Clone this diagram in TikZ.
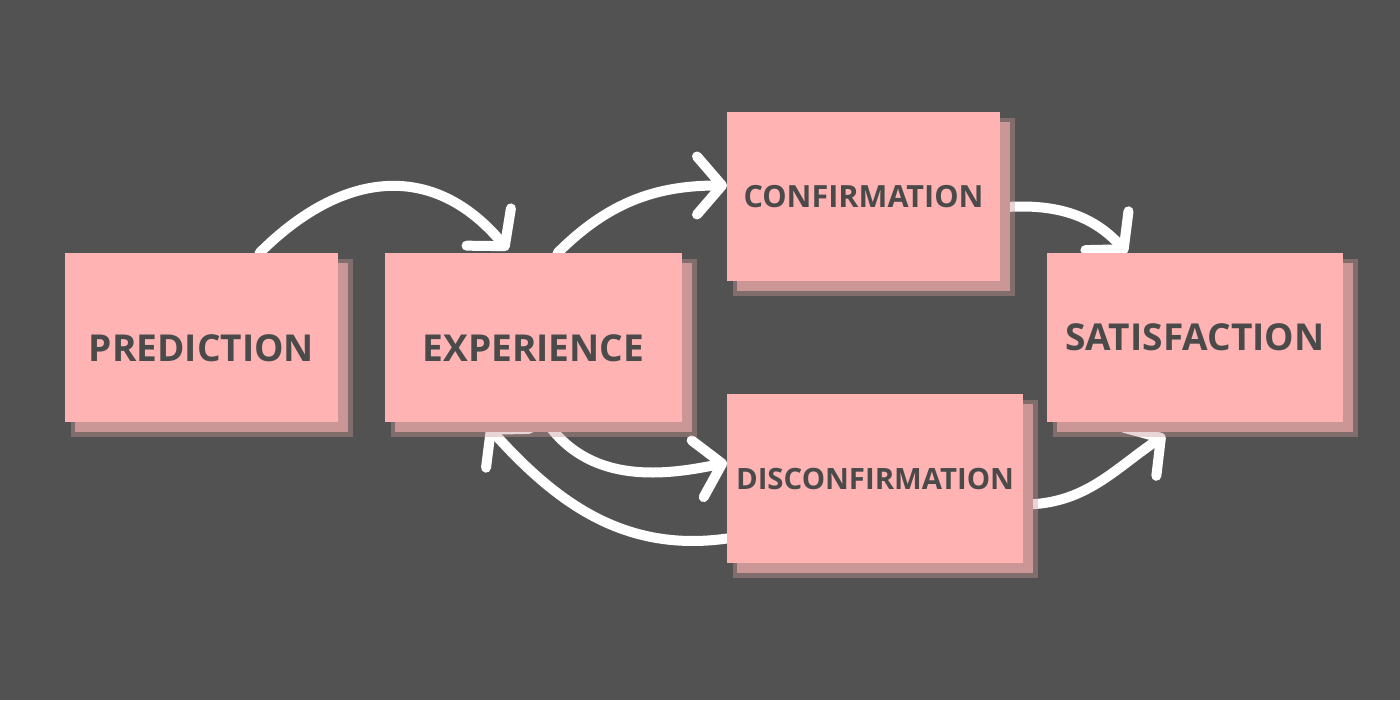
\documentclass[tikz,border=0pt]{standalone}
\usepackage{fontspec}
\setmainfont{Open Sans}
\usetikzlibrary{arrows.meta,calc,positioning,shadows}
\definecolor{ModelBackground}{HTML}{525252}
\definecolor{ModelPink}{HTML}{FFB3B3}
\definecolor{ModelShadow}{HTML}{CA9696}
\definecolor{ModelText}{HTML}{4A4A4A}
\pgfdeclarelayer{back}
\pgfdeclarelayer{links}
\pgfsetlayers{back,links,main}
% push a label a little below the middle of its box
\newcommand{\lowered}[1]{\raisebox{0pt}[\dimexpr\height+2.2mm\relax][0pt]{#1}}

\begin{document}
\begin{tikzpicture}[
  stagebox/.style={fill=ModelPink, text=ModelText, inner sep=0pt, outer sep=0pt, minimum height=1.69cm,
    drop shadow={shadow xshift=1mm, shadow yshift=-1mm, fill=ModelShadow, draw=ModelShadow,
      line width=0.9mm, fill opacity=1, draw opacity=0.4}},
  bigtext/.style={font=\fontsize{10.55}{13}\selectfont\bfseries},
  conftext/.style={font=\fontsize{8.7}{10}\selectfont\bfseries},
  disctext/.style={font=\fontsize{8.35}{10}\selectfont\bfseries},
  arr/.style={-{Straight Barb[length=2.5mm, width=5.8mm, round]}, line width=1mm,
    draw=white, line cap=round}
]
\begin{pgfonlayer}{back}
  \fill[ModelBackground] (0,0) rectangle (14,7);
\end{pgfonlayer}
\useasboundingbox (0,0) rectangle (14,7);

\node[stagebox, bigtext, minimum width=2.73cm] (pred) at (2.015,3.625) {\lowered{PREDICTION}};
\node[stagebox, bigtext, minimum width=2.97cm, right=0.47cm of pred] (exp) {\lowered{EXPERIENCE}};
\node[stagebox, conftext, minimum width=2.73cm, anchor=south west] (conf)
  at ([shift={(0.45,-0.28)}]exp.north east) {CONFIRMATION};
\node[stagebox, disctext, minimum width=2.96cm, anchor=north west] (disc)
  at ([shift={(0.45,0.28)}]exp.south east) {DISCONFIRMATION};
\node[stagebox, bigtext, minimum width=2.96cm, right=3.65cm of exp] (sat) {SATISFACTION};

\begin{pgfonlayer}{links}
  \draw[arr] ([xshift=5.8mm]pred.north) to[out=45, in=130, looseness=1.2] ([xshift=-2.55mm, yshift=0.3mm]exp.north);
  \draw[arr] ([xshift=2.4mm]exp.north) to[out=45, in=180] ([yshift=1.1mm]conf.west);
  \draw[arr] ([yshift=-1.1mm]conf.east) to[out=5, in=132] ([xshift=-6.8mm]sat.north);
  \draw[arr] ([xshift=1.3mm]exp.south) to[out=-55, in=192] ([yshift=1.6mm]disc.west);
  \draw[arr] ([yshift=-6mm]disc.west) to[out=188, in=-48] ([xshift=-4.6mm, yshift=-0.4mm]exp.south);
  \draw[arr] ([yshift=-2.6mm]disc.east) to[out=0, in=214] ([xshift=-3mm, yshift=-1.3mm]sat.south);
\end{pgfonlayer}
\end{tikzpicture}
\end{document}
